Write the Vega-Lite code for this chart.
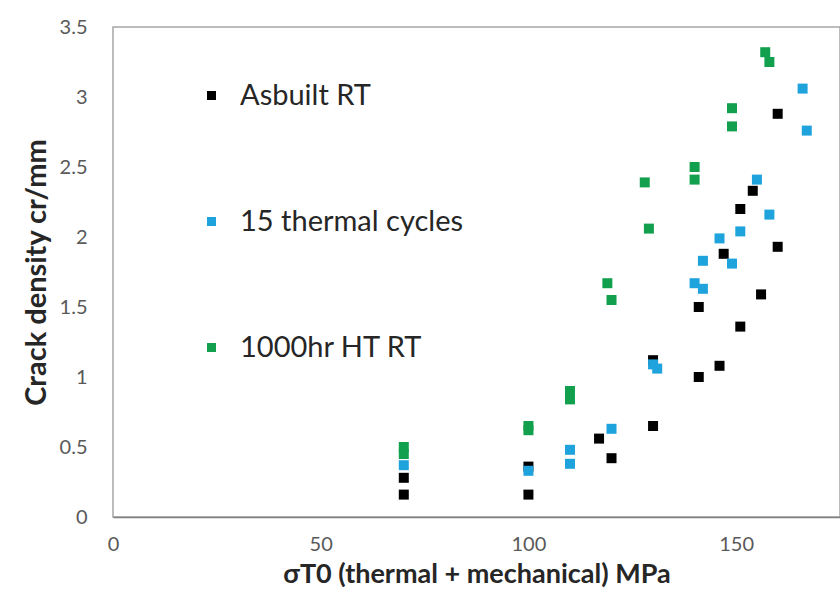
{
  "$schema": "https://vega.github.io/schema/vega-lite/v6.json",
  "autosize": {"type": "none"},
  "padding": {"left": 113, "top": 27, "right": 0, "bottom": 79},
  "width": 727,
  "height": 490,
  "background": "white",
  "config": {
    "font": "Lato",
    "view": {"stroke": "#a6a6a6", "strokeWidth": 1.5}
  },
  "data": {
    "values": [
      {"stress": 70, "density": 0.16, "series": "Asbuilt RT"},
      {"stress": 70, "density": 0.28, "series": "Asbuilt RT"},
      {"stress": 100, "density": 0.16, "series": "Asbuilt RT"},
      {"stress": 100, "density": 0.36, "series": "Asbuilt RT"},
      {"stress": 117, "density": 0.56, "series": "Asbuilt RT"},
      {"stress": 120, "density": 0.42, "series": "Asbuilt RT"},
      {"stress": 130, "density": 0.65, "series": "Asbuilt RT"},
      {"stress": 130, "density": 1.12, "series": "Asbuilt RT"},
      {"stress": 141, "density": 1.0, "series": "Asbuilt RT"},
      {"stress": 146, "density": 1.08, "series": "Asbuilt RT"},
      {"stress": 141, "density": 1.5, "series": "Asbuilt RT"},
      {"stress": 151, "density": 1.36, "series": "Asbuilt RT"},
      {"stress": 156, "density": 1.59, "series": "Asbuilt RT"},
      {"stress": 147, "density": 1.88, "series": "Asbuilt RT"},
      {"stress": 160, "density": 1.93, "series": "Asbuilt RT"},
      {"stress": 151, "density": 2.2, "series": "Asbuilt RT"},
      {"stress": 154, "density": 2.33, "series": "Asbuilt RT"},
      {"stress": 160, "density": 2.88, "series": "Asbuilt RT"},
      {"stress": 70, "density": 0.37, "series": "15 thermal cycles"},
      {"stress": 100, "density": 0.33, "series": "15 thermal cycles"},
      {"stress": 110, "density": 0.38, "series": "15 thermal cycles"},
      {"stress": 110, "density": 0.48, "series": "15 thermal cycles"},
      {"stress": 120, "density": 0.63, "series": "15 thermal cycles"},
      {"stress": 130, "density": 1.09, "series": "15 thermal cycles"},
      {"stress": 131, "density": 1.06, "series": "15 thermal cycles"},
      {"stress": 140, "density": 1.67, "series": "15 thermal cycles"},
      {"stress": 142, "density": 1.63, "series": "15 thermal cycles"},
      {"stress": 142, "density": 1.83, "series": "15 thermal cycles"},
      {"stress": 149, "density": 1.81, "series": "15 thermal cycles"},
      {"stress": 146, "density": 1.99, "series": "15 thermal cycles"},
      {"stress": 151, "density": 2.04, "series": "15 thermal cycles"},
      {"stress": 158, "density": 2.16, "series": "15 thermal cycles"},
      {"stress": 155, "density": 2.41, "series": "15 thermal cycles"},
      {"stress": 166, "density": 3.06, "series": "15 thermal cycles"},
      {"stress": 167, "density": 2.76, "series": "15 thermal cycles"},
      {"stress": 70, "density": 0.45, "series": "1000hr HT RT"},
      {"stress": 70, "density": 0.5, "series": "1000hr HT RT"},
      {"stress": 100, "density": 0.62, "series": "1000hr HT RT"},
      {"stress": 100, "density": 0.65, "series": "1000hr HT RT"},
      {"stress": 110, "density": 0.84, "series": "1000hr HT RT"},
      {"stress": 110, "density": 0.9, "series": "1000hr HT RT"},
      {"stress": 119, "density": 1.67, "series": "1000hr HT RT"},
      {"stress": 120, "density": 1.55, "series": "1000hr HT RT"},
      {"stress": 129, "density": 2.06, "series": "1000hr HT RT"},
      {"stress": 128, "density": 2.39, "series": "1000hr HT RT"},
      {"stress": 140, "density": 2.41, "series": "1000hr HT RT"},
      {"stress": 140, "density": 2.5, "series": "1000hr HT RT"},
      {"stress": 149, "density": 2.79, "series": "1000hr HT RT"},
      {"stress": 149, "density": 2.92, "series": "1000hr HT RT"},
      {"stress": 157, "density": 3.32, "series": "1000hr HT RT"},
      {"stress": 158, "density": 3.25, "series": "1000hr HT RT"}
    ]
  },
  "mark": {"type": "square", "size": 100, "opacity": 1, "filled": true},
  "encoding": {
    "x": {
      "field": "stress",
      "type": "quantitative",
      "scale": {"domain": [0, 175], "nice": false, "zero": true},
      "axis": {
        "values": [0, 50, 100, 150],
        "grid": false,
        "ticks": false,
        "domainColor": "#808080",
        "domainWidth": 1.5,
        "labelFontSize": 20,
        "labelColor": "#595959",
        "labelPadding": 17,
        "labelFlush": false,
        "title": "σT0 (thermal + mechanical) MPa",
        "titleFontSize": 27,
        "titleFontWeight": "bold",
        "titleColor": "#262626",
        "titlePadding": 7
      }
    },
    "y": {
      "field": "density",
      "type": "quantitative",
      "scale": {"domain": [0, 3.5], "nice": false},
      "axis": {
        "values": [0, 0.5, 1, 1.5, 2, 2.5, 3, 3.5],
        "format": "~g",
        "grid": false,
        "ticks": false,
        "domain": false,
        "labelFontSize": 20,
        "labelColor": "#595959",
        "labelPadding": 26,
        "title": "Crack density cr/mm",
        "titleFontSize": 29,
        "titleFontWeight": "bold",
        "titleColor": "#262626",
        "titlePadding": 8
      }
    },
    "color": {
      "field": "series",
      "type": "nominal",
      "scale": {
        "domain": ["Asbuilt RT", "15 thermal cycles", "1000hr HT RT"],
        "range": ["#000000", "#1fa3dc", "#12a04e"]
      },
      "legend": {
        "orient": "none",
        "legendX": 84,
        "legendY": 54,
        "title": null,
        "symbolType": "square",
        "symbolSize": 81,
        "symbolOpacity": 1,
        "labelFontSize": 29,
        "labelColor": "#262626",
        "labelOffset": 14,
        "rowPadding": 96,
        "labelLimit": 400
      }
    }
  }
}
